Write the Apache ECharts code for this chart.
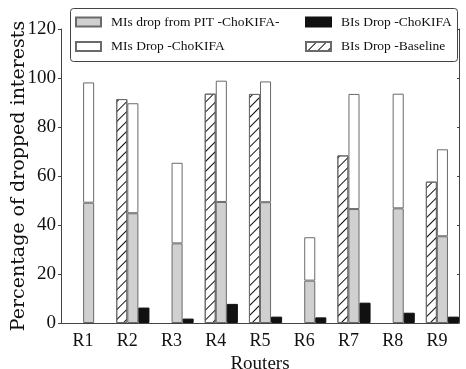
<!DOCTYPE html>
<html>
<head>
<meta charset="utf-8">
<script src="https://cdn.jsdelivr.net/npm/echarts@6/dist/echarts.min.js"></script>
<style>html,body{margin:0;padding:0;background:#fff;}#c{width:466px;height:369px;}</style>
</head>
<body>
<div id="c"></div>
<script>
var categories = ['R1','R2','R3','R4','R5','R6','R7','R8','R9'];
var bisBaseline = ['-', 91.4, '-', 93.6, 93.5, '-', 68.4, '-', 57.7];
var misPit = [49.1, 44.8, 32.5, 49.4, 49.3, 17.3, 46.5, 46.8, 35.4];
var misDrop = [49.1, 44.9, 32.9, 49.5, 49.3, 17.7, 47.0, 46.8, 35.5];
var bisChokifa = ['-', 6.3, 1.8, 7.8, 2.6, 2.3, 8.3, 4.2, 2.6];
var padSlot = ['-','-','-','-','-','-','-','-','-'];
var yTicks = [0, 20, 40, 60, 80, 100, 120];

var F = 'Liberation Serif';
var chart = echarts.init(document.getElementById('c'), null, {renderer: 'canvas'});
var barBorder = '#6a6a6a';
var legendText = {fontFamily: F, fontSize: 13.5, color: '#111', padding: [0, 0, 0, 5]};
chart.setOption({
  animation: false,
  backgroundColor: '#fff',
  grid: {left: 61, right: 7, top: 29, bottom: 46, containLabel: false, outerBoundsMode: 'none'},
  graphic: [{
    type: 'rect', z: 3,
    shape: {x: 70.5, y: 8.5, width: 387, height: 53, r: 3},
    style: {fill: '#fff', stroke: '#444', lineWidth: 1}
  }],
  legend: [{
    orient: 'vertical', left: 75, top: 15, itemGap: 10.5, icon: 'rect', padding: 0,
    itemWidth: 25, itemHeight: 9, z: 5,
    textStyle: legendText,
    data: ['MIs drop from PIT -ChoKIFA-', 'MIs Drop -ChoKIFA']
  }, {
    orient: 'vertical', left: 305, top: 15, itemGap: 10.5, icon: 'rect', padding: 0,
    itemWidth: 25, itemHeight: 9, z: 5,
    textStyle: legendText,
    data: ['BIs Drop -ChoKIFA', 'BIs Drop -Baseline']
  }],
  xAxis: [{
    type: 'category', data: categories,
    name: 'Routers', nameLocation: 'middle', nameGap: 25,
    nameTextStyle: {fontFamily: F, fontSize: 19, color: '#111'},
    axisLine: {lineStyle: {color: '#444'}},
    axisTick: {show: false},
    axisLabel: {fontFamily: F, fontSize: 18, color: '#111', margin: 9}
  }],
  yAxis: [{
    type: 'value', min: 0, max: 120, interval: 20,
    name: 'Percentage of dropped interests', nameLocation: 'middle', nameGap: 32,
    nameMoveOverlap: false,
    nameTextStyle: {fontFamily: '"DejaVu Serif"', fontSize: 19, color: '#111'},
    axisLine: {show: true, lineStyle: {color: '#444'}},
    axisTick: {show: true, length: 3, lineStyle: {color: '#444'}},
    axisLabel: {fontFamily: F, fontSize: 19, color: '#111', margin: 5,
      formatter: function (v) { return yTicks.indexOf(v) >= 0 ? String(v) : ''; }},
    splitLine: {show: false}
  }, {
    type: 'value', min: 0, max: 120, interval: 20, position: 'right',
    axisLine: {show: true, lineStyle: {color: '#444'}},
    axisTick: {show: true, inside: true, length: 2, lineStyle: {color: '#444'}},
    axisLabel: {show: false},
    splitLine: {show: false}
  }],
  series: [{
    name: 'pad', type: 'bar', data: padSlot,
    barGap: '0%', barCategoryGap: '0%'
  }, {
    name: 'BIs Drop -Baseline', type: 'bar', data: bisBaseline,
    itemStyle: {color: '#fff', borderColor: barBorder, borderWidth: 1,
      decal: {symbol: 'rect', symbolSize: 1, color: '#111',
        dashArrayX: [1, 0], dashArrayY: [1, 5.5], rotation: -Math.PI / 4}}
  }, {
    name: 'MIs drop from PIT -ChoKIFA-', type: 'bar', stack: 'mis', data: misPit,
    itemStyle: {color: '#d0d0d0', borderColor: barBorder, borderWidth: 1}
  }, {
    name: 'MIs Drop -ChoKIFA', type: 'bar', stack: 'mis', data: misDrop,
    itemStyle: {color: '#fff', borderColor: barBorder, borderWidth: 1}
  }, {
    name: 'BIs Drop -ChoKIFA', type: 'bar', data: bisChokifa,
    itemStyle: {color: '#111', borderColor: '#111', borderWidth: 1}
  }]
});
</script>
</body>
</html>
